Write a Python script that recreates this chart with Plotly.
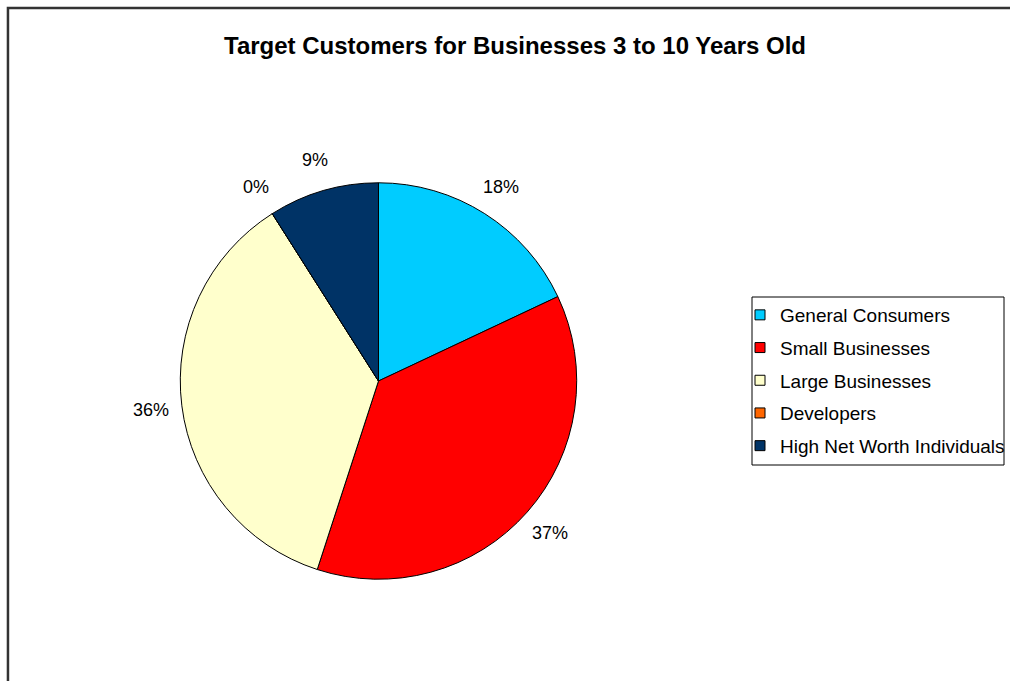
import math
import plotly.graph_objects as go

# Customer segments and their share of target customers (percent)
categories = ["General Consumers", "Small Businesses", "Large Businesses",
              "Developers", "High Net Worth Individuals"]
shares = [18, 37, 36, 0, 9]
slice_colors = ["#00CCFF", "#FF0000", "#FFFFCC", "#FF6600", "#003366"]

W, H = 1010, 681
cx, cy, R = 380, 381, 199  # pie centre / radius in pixels
FONT = "Liberation Sans, Arial"

fig = go.Figure()
fig.add_trace(go.Pie(
    labels=categories,
    values=shares,
    sort=False,
    direction="clockwise",
    rotation=0,
    textinfo="none",
    hoverinfo="label+percent",
    showlegend=False,
    marker=dict(colors=slice_colors, line=dict(color="#000000", width=1)),
    domain=dict(x=[(cx - R) / W, (cx + R) / W],
                y=[1 - (cy + R) / H, 1 - (cy - R) / H]),
))

# legend entries: one square-marker entry per segment, each in its own group
for name, col in zip(categories, slice_colors):
    fig.add_trace(go.Scatter(
        x=[None], y=[None], mode="markers", name=name, legendgroup=name,
        marker=dict(symbol="square", size=10, color=col,
                    line=dict(color="#000000", width=1)),
        hoverinfo="skip",
    ))

# percentage labels just outside each slice
total = sum(shares)
annotations = []
cum = 0.0
for v in shares:
    mid = (cum + v / 2) / total * 2 * math.pi
    cum += v
    d = R + 31
    px = cx + d * math.sin(mid)
    py = cy - d * math.cos(mid)
    annotations.append(dict(
        x=px / W, y=1 - py / H, xref="paper", yref="paper",
        text=f"{round(v / total * 100)}%", showarrow=False,
        xanchor="center", yanchor="middle",
        font=dict(family=FONT, size=18, color="#000000"),
    ))

fig.update_xaxes(visible=False)
fig.update_yaxes(visible=False)
fig.update_layout(
    width=W, height=H,
    margin=dict(l=0, r=0, t=0, b=0),
    paper_bgcolor="#FFFFFF",
    plot_bgcolor="#FFFFFF",
    title=dict(text="<b>Target Customers for Businesses 3 to 10 Years Old</b>",
               x=515 / W, xanchor="center", y=1 - 46 / H, yanchor="middle",
               font=dict(family=FONT, size=24, color="#000000")),
    legend=dict(x=755 / W, y=1 - 296 / H, xanchor="left", yanchor="top",
                indentation=-12, tracegroupgap=5,
                borderwidth=0, bgcolor="rgba(0,0,0,0)",
                font=dict(family=FONT, size=19, color="#000000")),
    annotations=annotations,
    shapes=[
        # outer chart frame
        dict(type="rect", xref="paper", yref="paper",
             x0=8 / W, x1=1.05, y0=-0.05, y1=1 - 8 / H,
             line=dict(color="#333333", width=2.5)),
        # legend box
        dict(type="rect", xref="paper", yref="paper",
             x0=755 / W, x1=1008 / W, y0=1 - 465 / H, y1=1 - 297 / H,
             line=dict(color="#000000", width=1)),
    ],
)

fig.write_html("out.html")
